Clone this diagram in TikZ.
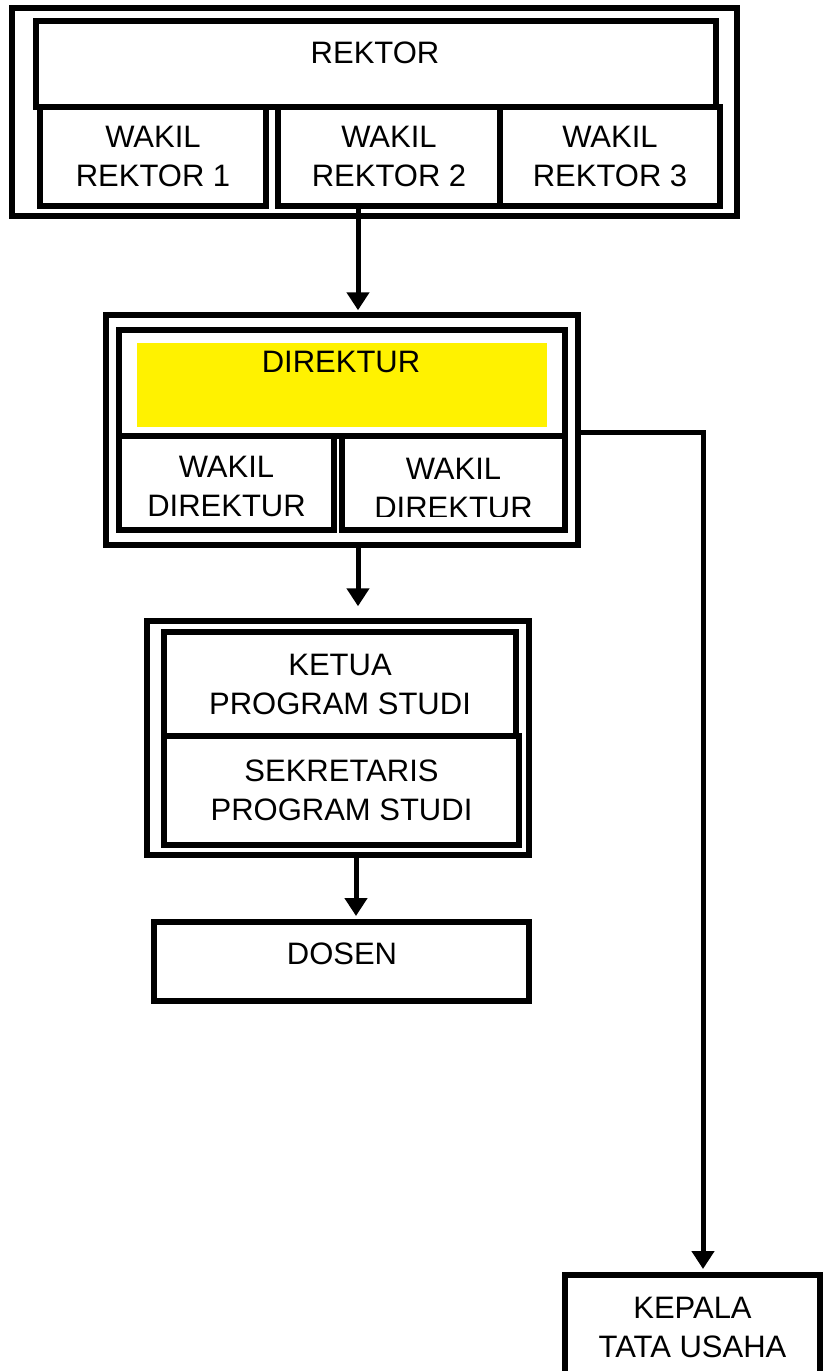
\documentclass[tikz,border=0pt]{standalone}
\usepackage{fontspec}
\setmainfont{Liberation Sans}
\usetikzlibrary{arrows.meta}
\tikzset{
  ob/.style={draw, line width=5.5pt, inner sep=0pt, align=center},
  ib/.style={draw, line width=6pt, inner sep=0pt, align=center},
  lbl/.style={inner sep=0pt, align=center},
  arr/.style={line width=5pt, -{Triangle[width=22pt,length=18pt]}, line join=miter}
}
\begin{document}
\begin{tikzpicture}[x=1pt,y=-1pt,font=\fontsize{31}{39}\selectfont]
\useasboundingbox (0,0) rectangle (824,1371);
\clip (0,0) rectangle (824,1371);
% top group
\node[ob, minimum width=725pt, minimum height=208pt] (outerR) at (374.5,112) {};
\node[ib, minimum width=680pt, minimum height=86pt] (rektor) at (376,64) {};
\node[lbl] (rektort) at (375,53) {REKTOR};
\node[ib, minimum width=226pt, minimum height=99pt] (wr1) at (153,156.5) {WAKIL\\REKTOR 1};
\node[ib, minimum width=222pt, minimum height=99pt] (wr2) at (389,156.5) {WAKIL\\REKTOR 2};
\node[ib, minimum width=220pt, minimum height=99pt] (wr3) at (610,156.5) {WAKIL\\REKTOR 3};
% direktur group
\fill[yellow] (137,343) rectangle (547,427);
\node[ob, minimum width=472pt, minimum height=230pt] (outerD) at (342,430) {};
\node[ib, minimum width=446pt, minimum height=106pt] (dirbox) at (342,383) {};
\node[lbl] (dirt) at (341,362) {DIREKTUR};
\node[ib, minimum width=215pt, minimum height=94pt] (wd1) at (226.5,483) {};
\node[lbl] (wd1t) at (226.5,486) {WAKIL\\DIREKTUR};
\node[ib, minimum width=223pt, minimum height=94pt] (wd2) at (453.5,483) {};
\begin{scope}
\clip (342,436) rectangle (565,516);
\node[lbl] (wd2t) at (453.5,488) {WAKIL\\DIREKTUR};
\end{scope}
% prodi group
\node[ob, minimum width=382pt, minimum height=234pt] (outerK) at (338,738) {};
\node[ib, minimum width=352pt, minimum height=104pt] (ketua) at (340,684) {KETUA\\PROGRAM STUDI};
\node[ib, minimum width=355pt, minimum height=109pt] (sekr) at (341.5,790.5) {SEKRETARIS\\PROGRAM STUDI};
% dosen
\node[ib, minimum width=375pt, minimum height=79pt] (dosen) at (341.5,961.5) {};
\node[lbl] (dosent) at (342,954) {DOSEN};
% kepala
\node[ib, minimum width=255pt, minimum height=104pt] (kepala) at (692.5,1327) {KEPALA\\TATA USAHA};
% connectors
\coordinate (c1) at (358,0);
\coordinate (c3) at (356,0);
\coordinate (c2) at (703,432);
\draw[arr, shorten >=2pt] (wr2.south -| c1) -- (outerD.north -| c1);
\draw[arr, shorten >=12pt] (outerD.south -| c1) -- (outerK.north -| c1);
\draw[arr, shorten >=3pt] (outerK.south -| c3) -- (dosen.north -| c3);
\draw[arr, shorten >=3pt] (outerD.east |- c2) -- (c2) -- (kepala.north -| c2);
\end{tikzpicture}
\end{document}
